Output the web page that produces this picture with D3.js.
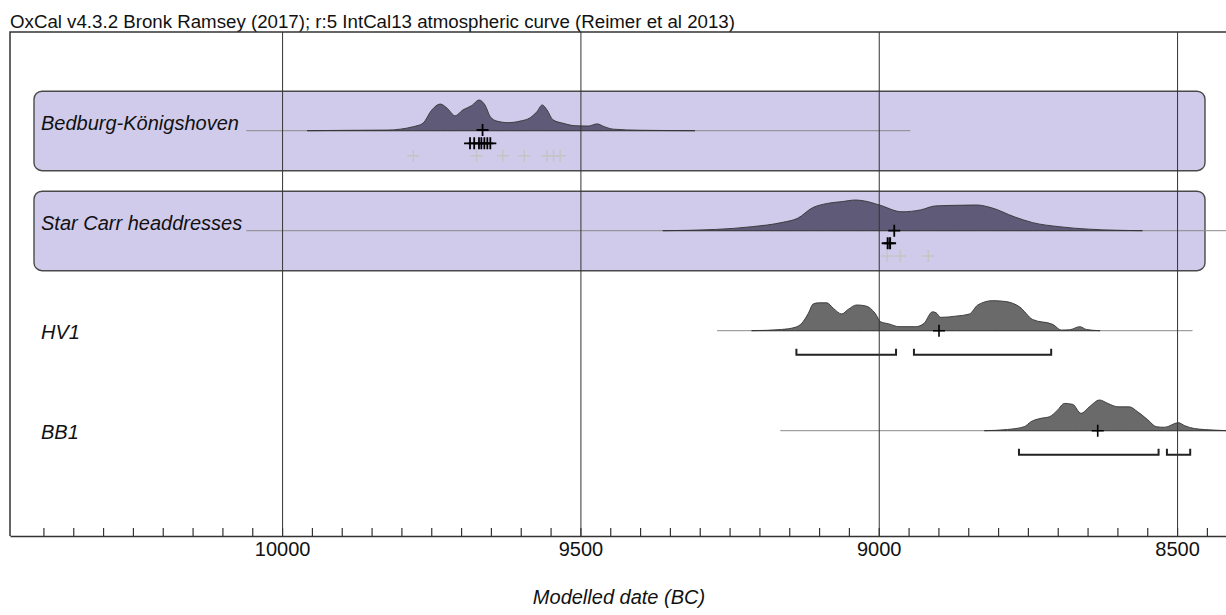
<!DOCTYPE html>
<html>
<head>
<meta charset="utf-8">
<script src="https://cdn.jsdelivr.net/npm/d3@7"></script>
<style>
  body { margin: 0; background: #fff; }
  svg { display: block; font-family: "Liberation Sans", Arial, sans-serif; }
</style>
</head>
<body>
<div id="chart"></div>
<script>
// rows, top to bottom
var rowNames = ['Bedburg-Königshoven', 'Star Carr headdresses', 'HV1', 'BB1'];
var boxedRows = ['Bedburg-Königshoven', 'Star Carr headdresses'];

// posterior density, [year BC, relative probability]
var bedburgDensity = [[9958,0],[9900,0.01],[9824,0.02],[9780,0.13],[9764,0.24],[9749,0.67],[9735,0.86],[9723,0.72],[9710,0.48],[9697,0.67],[9682,0.81],[9670,0.99],[9660,0.83],[9651,0.45],[9640,0.31],[9621,0.26],[9601,0.31],[9584,0.42],[9573,0.61],[9564,0.83],[9556,0.67],[9546,0.35],[9529,0.24],[9509,0.16],[9487,0.15],[9472,0.22],[9460,0.13],[9445,0.05],[9400,0.015],[9308,0]];
var starCarrDensity = [[9362,0],[9274,0.04],[9212,0.13],[9161,0.27],[9136,0.40],[9111,0.74],[9086,0.88],[9061,0.94],[9039,0.99],[9024,0.96],[8999,0.83],[8961,0.61],[8930,0.67],[8905,0.80],[8867,0.82],[8836,0.83],[8811,0.74],[8773,0.45],[8742,0.26],[8698,0.13],[8648,0.05],[8558,0]];
var hv1Density = [[9213,0],[9163,0.04],[9140,0.11],[9129,0.24],[9118,0.56],[9110,0.86],[9101,0.90],[9087,0.90],[9076,0.72],[9062,0.54],[9051,0.69],[9037,0.83],[9022,0.80],[9006,0.56],[8997,0.29],[8983,0.22],[8966,0.13],[8938,0.13],[8924,0.24],[8910,0.61],[8904,0.58],[8896,0.43],[8871,0.47],[8848,0.54],[8834,0.83],[8809,0.97],[8787,0.94],[8764,0.77],[8742,0.36],[8708,0.20],[8694,0.02],[8680,0.03],[8663,0.13],[8652,0.04],[8629,0]];
var bb1Density = [[8823,0],[8784,0.04],[8756,0.13],[8745,0.29],[8728,0.40],[8714,0.45],[8700,0.67],[8689,0.88],[8675,0.85],[8661,0.56],[8647,0.77],[8630,0.99],[8616,0.88],[8599,0.77],[8580,0.77],[8566,0.61],[8549,0.35],[8535,0.13],[8521,0.11],[8498,0.26],[8487,0.16],[8471,0.07],[8438,0.02],[8416,0]];
var densities = [bedburgDensity, starCarrDensity, hv1Density, bb1Density];

// extent of the thin line under each row
var rowLineRanges = [[10060, 8947], [10060, 8400], [9271, 8474], [9165, 8400]];

// modelled point estimates (black) and individual dates (grey)
var bedburgMarks = [9664];
var bedburgDates = [9685, 9678, 9670, 9666, 9661, 9656, 9651];
var bedburgFaint = [9780, 9674, 9630, 9594, 9556, 9545, 9534];
var starCarrMarks = [8974];
var starCarrDates = [8981, 8985];
var starCarrFaint = [8986, 8964, 8917];
var hv1Marks = [8899];
var bb1Marks = [8633];

// 95.4% ranges
var hv1Ranges = [[9138, 8971], [8941, 8711]];
var bb1Ranges = [[8765, 8531], [8517, 8478]];

var majorTicks = [10000, 9500, 9000, 8500];
var minorTicks = d3.range(10400, 8400, -50);

var title = 'OxCal v4.3.2 Bronk Ramsey (2017); r:5 IntCal13 atmospheric curve (Reimer et al 2013)';
var xTitle = 'Modelled date (BC)';

var W = 1226, H = 615,
  frameTop = 32,
  axisY = 536;

var x = d3.scaleLinear().domain([10456, 8418]).range([10, 1226]);
var rowY = d3.scalePoint().domain(rowNames).range([130.7, 430.7]);
var dY = d3.scaleLinear().domain([0, 1]).range([0, 31]);

var svg = d3.select('#chart').append('svg')
  .attr('width', W)
  .attr('height', H);

svg.append('text')
  .attr('x', 10)
  .attr('y', 28)
  .style('font-size', '18.7px')
  .style('fill', '#111')
  .text(title);

// purple boxes
svg.append('g').selectAll('rect')
  .data(boxedRows)
  .enter()
  .append('rect')
  .attr('x', 34)
  .attr('y', function(d){ return rowY(d) - 39.5; })
  .attr('width', 1205 - 34)
  .attr('height', 79.5)
  .attr('rx', 8)
  .attr('fill', '#d0cbeb')
  .attr('stroke', '#4a4a4a')
  .attr('stroke-width', 1.4);

// thin row lines
svg.append('g').selectAll('line')
  .data(rowNames)
  .enter()
  .append('line')
  .attr('x1', function(d,i){ return x(rowLineRanges[i][0]); })
  .attr('x2', function(d,i){ return x(rowLineRanges[i][1]); })
  .attr('y1', function(d){ return rowY(d); })
  .attr('y2', function(d){ return rowY(d); })
  .attr('stroke', '#8a8a8a')
  .attr('stroke-width', 1);

// distributions
var area = d3.area()
  .curve(d3.curveMonotoneX)
  .x(function(d){ return x(d[0]); });

svg.append('g').selectAll('path')
  .data(rowNames)
  .enter()
  .append('path')
  .attr('d', function(d,i){
    var base = rowY(d);
    return area.y0(base).y1(function(p){ return base - dY(p[1]); })(densities[i]);
  })
  .attr('fill', function(d){
    return boxedRows.indexOf(d) >= 0 ? '#5f5a78' : '#6a6a6a';
  })
  .attr('stroke', '#333')
  .attr('stroke-width', 0.9);

// labels
svg.append('g').selectAll('text')
  .data(rowNames)
  .enter()
  .append('text')
  .attr('x', 41)
  .attr('y', function(d){
    return boxedRows.indexOf(d) >= 0 ? rowY(d) - 0.5 : rowY(d) + 8.5;
  })
  .style('font-size', '20px')
  .style('font-style', 'italic')
  .style('fill', '#111')
  .text(function(d){ return d; });

// crosses
var crossPath = 'M-6,0H6M0,-6V6';
function crosses(years, row, dy, color, width){
  svg.append('g').selectAll('path')
    .data(years)
    .enter()
    .append('path')
    .attr('transform', function(d){ return 'translate(' + x(d) + ',' + (rowY(row) + dy) + ')'; })
    .attr('d', crossPath)
    .attr('fill', 'none')
    .attr('stroke', color)
    .attr('stroke-width', width);
}
crosses(bedburgFaint, rowNames[0], 25, '#c4c4c4', 1.4);
crosses(bedburgDates, rowNames[0], 12.6, '#000', 1.8);
crosses(bedburgMarks, rowNames[0], -0.7, '#000', 1.8);
crosses(starCarrFaint, rowNames[1], 25.3, '#c4c4c4', 1.4);
crosses(starCarrDates, rowNames[1], 12.5, '#000', 2);
crosses(starCarrMarks, rowNames[1], 0, '#000', 1.8);
crosses(hv1Marks, rowNames[2], 0, '#000', 1.6);
crosses(bb1Marks, rowNames[3], 0, '#000', 1.6);

// range brackets
function brackets(ranges, row){
  var by = rowY(row) + 24;
  svg.append('g').selectAll('path')
    .data(ranges)
    .enter()
    .append('path')
    .attr('d', function(r){
      return 'M' + x(r[0]) + ',' + (by - 6) + 'V' + by + 'H' + x(r[1]) + 'V' + (by - 6);
    })
    .attr('fill', 'none')
    .attr('stroke', '#222')
    .attr('stroke-width', 2);
}
brackets(hv1Ranges, rowNames[2]);
brackets(bb1Ranges, rowNames[3]);

// frame
svg.append('path')
  .attr('d', 'M' + x.range()[0] + ',' + axisY + 'V' + frameTop + 'H' + W)
  .attr('fill', 'none')
  .attr('stroke', '#333')
  .attr('stroke-width', 1.5);

// grid lines at the major ticks
var gridAxis = d3.axisTop(x)
  .tickValues(majorTicks)
  .tickSize(axisY - frameTop)
  .tickSizeOuter(0)
  .tickFormat('');
var grid = svg.append('g').attr('transform', 'translate(0,' + axisY + ')');
gridAxis(grid);
grid.select('.domain').remove();
grid.selectAll('line').attr('stroke', '#333').attr('stroke-width', 1);

// minor ticks pointing up
var minorAxis = d3.axisTop(x)
  .tickValues(minorTicks)
  .tickSize(8)
  .tickSizeOuter(0)
  .tickFormat('');
var minor = svg.append('g').attr('transform', 'translate(0,' + axisY + ')');
minorAxis(minor);
minor.selectAll('line').attr('stroke', '#333').attr('stroke-width', 1.2);
minor.select('.domain').attr('stroke', '#333').attr('stroke-width', 1.6);

// tick labels
var labelAxis = d3.axisBottom(x)
  .tickValues(majorTicks)
  .tickSize(0)
  .tickPadding(6)
  .tickFormat(d3.format('d'));
var labels = svg.append('g').attr('transform', 'translate(0,' + axisY + ')');
labelAxis(labels);
labels.select('.domain').remove();
labels.selectAll('text')
  .style('font-size', '20px')
  .style('font-family', '"Liberation Sans", Arial, sans-serif')
  .attr('fill', '#111');

svg.append('text')
  .attr('x', 619)
  .attr('y', 604)
  .attr('text-anchor', 'middle')
  .style('font-size', '20px')
  .style('font-style', 'italic')
  .style('fill', '#111')
  .text(xTitle);
</script>
</body>
</html>
